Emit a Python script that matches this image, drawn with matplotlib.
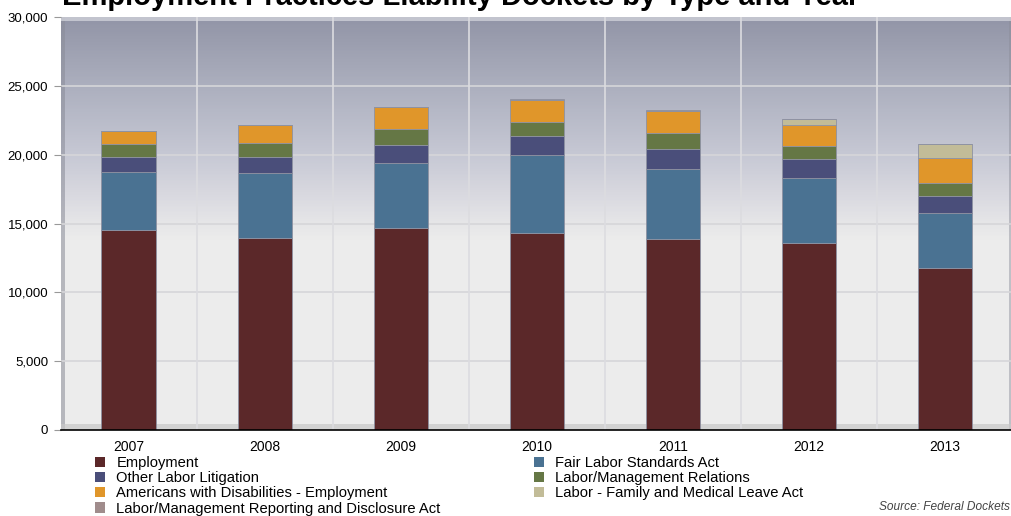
import numpy as np
import matplotlib
matplotlib.use("Agg")
import matplotlib.pyplot as plt
from matplotlib.colors import LinearSegmentedColormap
from matplotlib.patches import Patch

plt.rcParams['font.family'] = ['Liberation Sans', 'DejaVu Sans']

years = ['2007', '2008', '2009', '2010', '2011', '2012', '2013']

# docket counts per type, bottom of the stack first
employment = [14550, 13930, 14650, 14290, 13850, 13560, 11740]
fair_labor = [4170, 4740, 4770, 5690, 5130, 4740, 4020]
other_labor = [1090, 1190, 1260, 1380, 1450, 1360, 1260]
labor_mgmt = [990, 1020, 1180, 1000, 1120, 970, 900]
ada = [920, 1260, 1580, 1640, 1640, 1550, 1860]
fmla = [0, 0, 0, 0, 0, 410, 970]
lmrda = [40, 50, 40, 40, 60, 30, 30]

series = [
    ('Employment', employment, '#5b2829'),
    ('Fair Labor Standards Act', fair_labor, '#4a7292'),
    ('Other Labor Litigation', other_labor, '#4a4e7a'),
    ('Labor/Management Relations', labor_mgmt, '#657745'),
    ('Americans with Disabilities - Employment', ada, '#e0962a'),
    ('Labor - Family and Medical Leave Act', fmla, '#c2bc98'),
    ('Labor/Management Reporting and Disclosure Act', lmrda, '#a08c8c'),
]

fig = plt.figure(figsize=(10.11, 5.16), dpi=100)
ax = fig.add_axes([0.060, 0.1667, 0.942, 0.800])

# background gradient of the plot box
stops = [(0.0, '#ededed'), (0.46, '#ececec'), (0.50, '#e6e6e8'),
         (0.57, '#d9d9e0'), (0.67, '#c6c8d4'), (0.83, '#adb0bf'),
         (1.0, '#9295a7')]
cmap = LinearSegmentedColormap.from_list('bg', stops)
grad = np.linspace(0, 1, 400).reshape(-1, 1)
ax.imshow(grad, cmap=cmap, origin='lower', aspect='auto',
          extent=[-0.5, 6.5, 0, 30000], zorder=0)
# bevel edges
ax.axvspan(-0.5, -0.47, color='#8a8c98', alpha=0.55, zorder=0.5, lw=0)
ax.axvspan(6.47, 6.5, color='#8a8c98', alpha=0.45, zorder=0.5, lw=0)
ax.axhspan(29700, 30000, color='#cfd0d8', alpha=0.8, zorder=0.5, lw=0)
ax.axhspan(0, 450, color='#c8c8c8', alpha=0.7, zorder=0.5, lw=0)

for yv in range(5000, 30000, 5000):
    ax.axhline(yv, color='#d6d6d9', lw=1.2, zorder=1)
for xv in np.arange(0.5, 6.5, 1.0):
    ax.axvline(xv, color='#dcdce0', lw=1.2, zorder=1)

x = np.arange(len(years))
bottom = np.zeros(len(years))
handles = {}
for name, vals, col in series:
    ax.bar(x, vals, 0.40, bottom=bottom, color=col, edgecolor='#8e92a2',
           linewidth=0.6, zorder=2)
    bottom += np.array(vals)
    handles[name] = Patch(facecolor=col, edgecolor='none')

ax.set_xlim(-0.5, 6.5)
ax.set_ylim(0, 30000)
ax.set_yticks(range(0, 30001, 5000))
ax.set_yticklabels(['{:,}'.format(v) for v in range(0, 30001, 5000)], fontsize=9.5)
ax.set_xticks(x)
ax.set_xticklabels(years, fontsize=10)
ax.tick_params(axis='x', length=0, pad=7)
ax.tick_params(axis='y', length=5, color='#999999', pad=4)
for s in ['top', 'right', 'left']:
    ax.spines[s].set_visible(False)
ax.spines['bottom'].set_color('black')
ax.spines['bottom'].set_linewidth(1.2)
ax.spines['bottom'].set_zorder(3)

fig.text(0.061, 0.990, 'Employment Practices Liability Dockets by Type and Year',
         fontsize=21, fontweight='bold', ha='left', va='baseline')

col1 = ['Employment', 'Other Labor Litigation',
        'Americans with Disabilities - Employment',
        'Labor/Management Reporting and Disclosure Act']
col2 = ['Fair Labor Standards Act', 'Labor/Management Relations',
        'Labor - Family and Medical Leave Act']
kw = dict(frameon=False, fontsize=10.6, handlelength=0.7, handleheight=0.7,
          handletextpad=0.75, labelspacing=0.08, borderpad=0, borderaxespad=0)
fig.legend([handles[n] for n in col1], col1, loc='upper left',
           bbox_to_anchor=(0.094, 0.116), **kw)
fig.legend([handles[n] for n in col2], col2, loc='upper left',
           bbox_to_anchor=(0.528, 0.116), **kw)

fig.text(0.9995, 0.0125, 'Source: Federal Dockets', fontsize=8.6, style='italic',
         color='#444444', ha='right', va='baseline')

fig.savefig('out.png', dpi=100)
